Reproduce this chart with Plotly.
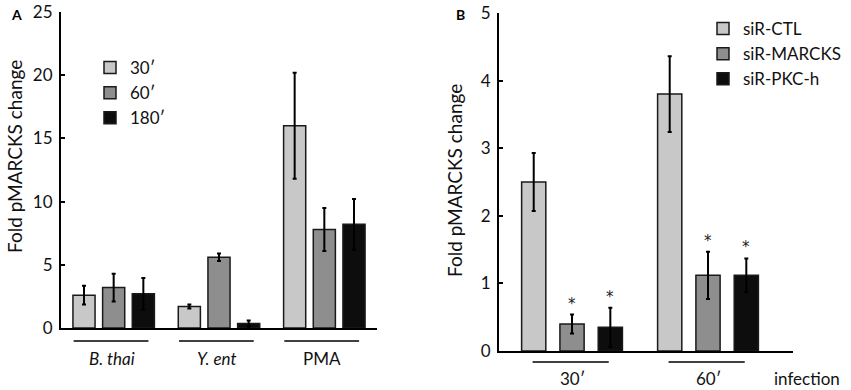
import plotly.graph_objects as go

W, H = 851, 390

# ---------------- data ----------------
a_groups = ["B. thai", "Y. ent", "PMA"]
a_group_labels = ["<i>B. thai</i>", "<i>Y. ent</i>", "PMA"]
a_series = ["30′", "60′", "180′"]
a_values = {
    "30′": [2.6, 1.7, 16.0],
    "60′": [3.2, 5.6, 7.8],
    "180′": [2.7, 0.35, 8.2],
}
a_errors = {
    "30′": [0.75, 0.15, 4.2],
    "60′": [1.1, 0.3, 1.7],
    "180′": [1.25, 0.25, 2.0],
}

b_groups = ["30′", "60′"]
b_series = ["siR-CTL", "siR-MARCKS", "siR-PKC-h"]
b_values = {
    "siR-CTL": [2.5, 3.8],
    "siR-MARCKS": [0.4, 1.12],
    "siR-PKC-h": [0.35, 1.12],
}
b_errors = {
    "siR-CTL": [0.43, 0.56],
    "siR-MARCKS": [0.14, 0.35],
    "siR-PKC-h": [0.29, 0.25],
}
b_significant = {
    "siR-CTL": [False, False],
    "siR-MARCKS": [True, True],
    "siR-PKC-h": [True, True],
}

a_yticks = [0, 5, 10, 15, 20, 25]
b_yticks = [0, 1, 2, 3, 4, 5]

# ---------------- styles ----------------
FONT = "Lato"
fills = ["#c8c8c8", "#8e8e8e", "#0d0d0d"]
OUT = "#1a1a1a"
TXT = "#111"
FS = 17


def px(x):
    return x / W


def py(y):
    return 1 - y / H


fig = go.Figure()

for i, s in enumerate(a_series):
    fig.add_trace(go.Bar(
        x=a_groups, y=a_values[s], name=s,
        marker=dict(color=fills[i], line=dict(color=OUT, width=1.5)),
        error_y=dict(type="data", array=a_errors[s], color="#000", thickness=2, width=2),
        width=0.21, xaxis="x", yaxis="y", legend="legend",
    ))

for i, s in enumerate(b_series):
    fig.add_trace(go.Bar(
        x=b_groups, y=b_values[s], name=s,
        marker=dict(color=fills[i], line=dict(color=OUT, width=1.5)),
        error_y=dict(type="data", array=b_errors[s], color="#000", thickness=2, width=2),
        width=0.178, xaxis="x2", yaxis="y2", legend="legend2",
    ))

annotations = []
shapes = []

# significance stars (panel B)
for i, s in enumerate(b_series):
    for j, g in enumerate(b_groups):
        if b_significant[s][j]:
            annotations.append(dict(
                x=g, y=b_values[s][j] + b_errors[s][j], xref="x2", yref="y2",
                text="*", showarrow=False,
                font=dict(family="DejaVu Sans", size=15, color="#222"),
                yanchor="middle", yshift=11, xshift=[-37.5, 0, 37.5][i],
            ))

# group underlines and labels (panel A)
for k, g in enumerate(a_groups):
    shapes.append(dict(type="line", xref="x", yref="paper", x0=k - 0.38, x1=k + 0.33,
                       y0=py(341), y1=py(341), line=dict(color="#000", width=1.5)))
    annotations.append(dict(x=g, y=py(358), xref="x", yref="paper", text=a_group_labels[k],
                            showarrow=False, font=dict(family=FONT, size=FS, color=TXT),
                            xanchor="center", yanchor="middle", xshift=-2))

# group underlines and labels (panel B)
for k, g in enumerate(b_groups):
    shapes.append(dict(type="line", xref="x2", yref="paper", x0=k - 0.29, x1=k + 0.27,
                       y0=py(362), y1=py(362), line=dict(color="#000", width=1.5)))
    annotations.append(dict(x=g, y=py(378), xref="x2", yref="paper", text=g,
                            showarrow=False, font=dict(family=FONT, size=FS, color=TXT),
                            xanchor="center", yanchor="middle"))

annotations.append(dict(x=px(772), y=py(378), xref="paper", yref="paper", text="infection",
                        showarrow=False, font=dict(family=FONT, size=FS, color=TXT),
                        xanchor="left", yanchor="middle"))

# axis titles
annotations.append(dict(x=px(14), y=py(157), xref="paper", yref="paper",
                        text="Fold pMARCKS change", textangle=-90, showarrow=False,
                        font=dict(family=FONT, size=19, color=TXT),
                        xanchor="center", yanchor="middle"))
annotations.append(dict(x=px(454), y=py(181), xref="paper", yref="paper",
                        text="Fold pMARCKS change", textangle=-90, showarrow=False,
                        font=dict(family=FONT, size=19, color=TXT),
                        xanchor="center", yanchor="middle"))

# panel letters
annotations.append(dict(x=px(16), y=py(15), xref="paper", yref="paper", text="<b>A</b>",
                        showarrow=False, font=dict(family=FONT, size=14, color="#000"),
                        xanchor="center", yanchor="middle"))
annotations.append(dict(x=px(460), y=py(15), xref="paper", yref="paper", text="<b>B</b>",
                        showarrow=False, font=dict(family=FONT, size=14, color="#000"),
                        xanchor="center", yanchor="middle"))

axis_common = dict(showgrid=False, zeroline=False, showline=True, linecolor="#000",
                   linewidth=2, automargin=False)

fig.update_layout(
    template="none",
    width=W, height=H,
    margin=dict(l=0, r=0, t=0, b=0, pad=0, autoexpand=False),
    paper_bgcolor="white", plot_bgcolor="white",
    barmode="group", bargap=0.155, bargroupgap=0,
    font=dict(family=FONT, size=FS, color=TXT),
    showlegend=True,
    xaxis=dict(domain=[px(61), px(377)], range=[-0.5, 2.5], anchor="y",
               showticklabels=False, ticks="", **axis_common),
    yaxis=dict(domain=[py(328), py(12)], range=[0, 25], anchor="x",
               tickvals=a_yticks, ticks="inside", ticklen=4, tickwidth=2, tickcolor="#000",
               ticklabelstandoff=3, ticklabeloverflow="allow",
               tickfont=dict(family=FONT, size=FS, color=TXT), **axis_common),
    xaxis2=dict(domain=[px(499), px(793)], range=[-0.537, 1.625], anchor="y2",
                showticklabels=False, ticks="", **axis_common),
    yaxis2=dict(domain=[py(351), py(13)], range=[0, 5], anchor="x2",
                tickvals=b_yticks, ticks="inside", ticklen=4, tickwidth=2, tickcolor="#000",
                ticklabelstandoff=3, ticklabeloverflow="allow",
                tickfont=dict(family=FONT, size=FS, color=TXT), **axis_common),
    legend=dict(x=px(90), y=py(50), xanchor="left", yanchor="top",
                font=dict(family=FONT, size=FS, color=TXT), bgcolor="rgba(0,0,0,0)",
                tracegroupgap=0, itemclick=False, borderwidth=0),
    legend2=dict(x=px(703), y=py(11), xanchor="left", yanchor="top",
                 font=dict(family=FONT, size=FS, color=TXT), bgcolor="rgba(0,0,0,0)",
                 tracegroupgap=0, itemclick=False, borderwidth=0),
    annotations=annotations,
    shapes=shapes,
)

fig.write_html(
    "out.html",
    config={"displayModeBar": False},
    post_script="document.body.style.margin='0';document.body.style.overflow='hidden';",
)
